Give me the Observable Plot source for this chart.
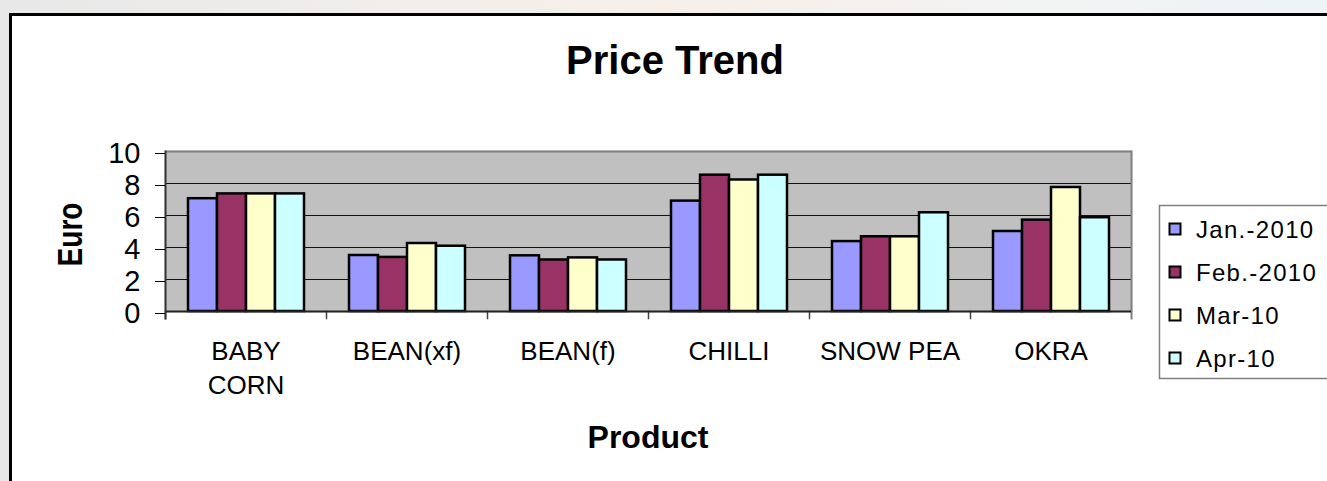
<!DOCTYPE html>
<html>
<head>
<meta charset="utf-8">
<script src="https://cdn.jsdelivr.net/npm/d3@7"></script>
<script src="https://cdn.jsdelivr.net/npm/@observablehq/plot@0.6"></script>
<style>
html, body { margin: 0; padding: 0; width: 1327px; height: 481px; overflow: hidden; }
body {
  position: relative;
  font-family: "Liberation Sans", Arial, sans-serif;
  background: linear-gradient(90deg, #e8e8e8 0%, #f1eeec 30%, #f7eee8 50%, #f3f3f3 75%, #eef3f6 100%);
}
#frame { position: absolute; left: 9px; top: 13px; width: 1330px; height: 480px; background: #fff;
  border-left: 3px solid #000; border-top: 3px solid #000; }
#plot { position: absolute; left: 0; top: 0; }
#overlay { position: absolute; left: 0; top: 0; pointer-events: none; }
</style>
</head>
<body>
<div id="frame"></div>
<div id="plot"></div>
<svg id="overlay" width="1327" height="481"></svg>
<script>
// ---- data ----
const products = ["BABY CORN", "BEAN(xf)", "BEAN(f)", "CHILLI", "SNOW PEA", "OKRA"];
const months = ["Jan.-2010", "Feb.-2010", "Mar-10", "Apr-10"];
const jan2010 = [7.05, 3.50, 3.48, 6.90, 4.37, 5.00];
const feb2010 = [7.35, 3.38, 3.22, 8.52, 4.67, 5.71];
const mar2010 = [7.35, 4.25, 3.35, 8.22, 4.67, 7.75];
const apr2010 = [7.35, 4.08, 3.22, 8.52, 6.17, 5.86];
const colors = ["#9999FF", "#993366", "#FFFFCC", "#CCFFFF"];
const yTicks = [0, 2, 4, 6, 8, 10];
const titleText = "Price Trend";
const xLabel = "Product";
const yLabel = "Euro";

const series = [jan2010, feb2010, mar2010, apr2010];
const data = [];
products.forEach((p, i) => months.forEach((m, j) => data.push({product: p, month: m, value: series[j][i]})));

const W = 1327, H = 481, mT = 151, mB = 170, mL = 163, mR = 195;
const plotH = H - mT - mB;

const chart = Plot.plot({
  width: W, height: H,
  marginTop: mT, marginBottom: mB, marginLeft: mL, marginRight: mR,
  style: {background: "transparent", fontFamily: "'Liberation Sans', Arial, sans-serif", color: "#000"},
  fx: {domain: products, padding: 0, axis: null},
  x: {domain: months, paddingInner: 0, paddingOuter: 0.71, axis: null},
  y: {domain: [0, 10], axis: null},
  color: {domain: months, range: colors},
  marks: [
    Plot.frame({fill: "#C0C0C0", stroke: "#C0C0C0", strokeWidth: 1.5}),
    Plot.gridY([2, 4, 6, 8], {stroke: "#000", strokeOpacity: 0.9}),
    Plot.gridY([10], {stroke: "#808080", strokeOpacity: 1, strokeWidth: 2}),
    Plot.frame({facet: "super", anchor: "right", stroke: "#808080", strokeWidth: 2, insetBottom: -7}),
    Plot.frame({anchor: "left", stroke: "#444", strokeWidth: 1.5, insetTop: plotH, insetBottom: -7}),
    Plot.barY(data, {fx: "product", x: "month", y: "value", fill: "month", stroke: "#000", strokeWidth: 2.5}),
    Plot.ruleY([0], {stroke: "#222", strokeWidth: 2}),
    Plot.frame({facet: "super", anchor: "left", stroke: "#333", strokeWidth: 2, insetBottom: -7}),
    Plot.axisY({ticks: yTicks, tickSize: 10, tickPadding: 15, fontSize: 29, label: null, dy: 2}),
    Plot.axisFx({anchor: "bottom", tickSize: 0, tickPadding: 24, fontSize: 26, lineHeight: 1.32, label: null,
      tickFormat: d => d.replace(" CORN", "\nCORN")})
  ]
});
document.getElementById("plot").appendChild(chart);

// ---- overlay: title, axis titles, legend ----
const ov = d3.select("#overlay");
const ff = "'Liberation Sans', Arial, sans-serif";
ov.append("text").attr("x", 675).attr("y", 74).attr("text-anchor", "middle")
  .attr("font-family", ff).attr("font-size", 40).attr("font-weight", "bold").text(titleText);
ov.append("text").attr("x", 648).attr("y", 448).attr("text-anchor", "middle")
  .attr("font-family", ff).attr("font-size", 32).attr("font-weight", "bold").text(xLabel);
ov.append("text").attr("transform", "translate(81.5,234.5) rotate(-90) scale(1,1.25)")
  .attr("text-anchor", "middle")
  .attr("font-family", ff).attr("font-size", 28).attr("font-weight", "bold").text(yLabel);

const lg = ov.append("g");
lg.append("rect").attr("x", 1159.5).attr("y", 205.5).attr("width", 220).attr("height", 173)
  .attr("fill", "#fff").attr("stroke", "#808080").attr("stroke-width", 1.5);
months.forEach((m, i) => {
  const cy = 229 + i * 43;
  lg.append("rect").attr("x", 1169.5).attr("y", cy - 5.5).attr("width", 11).attr("height", 11)
    .attr("fill", colors[i]).attr("stroke", "#000").attr("stroke-width", 2);
  lg.append("text").attr("x", 1196).attr("y", cy + 8.5)
    .attr("font-family", ff).attr("font-size", 24).attr("letter-spacing", 1.3).text(m);
});
</script>
</body>
</html>
